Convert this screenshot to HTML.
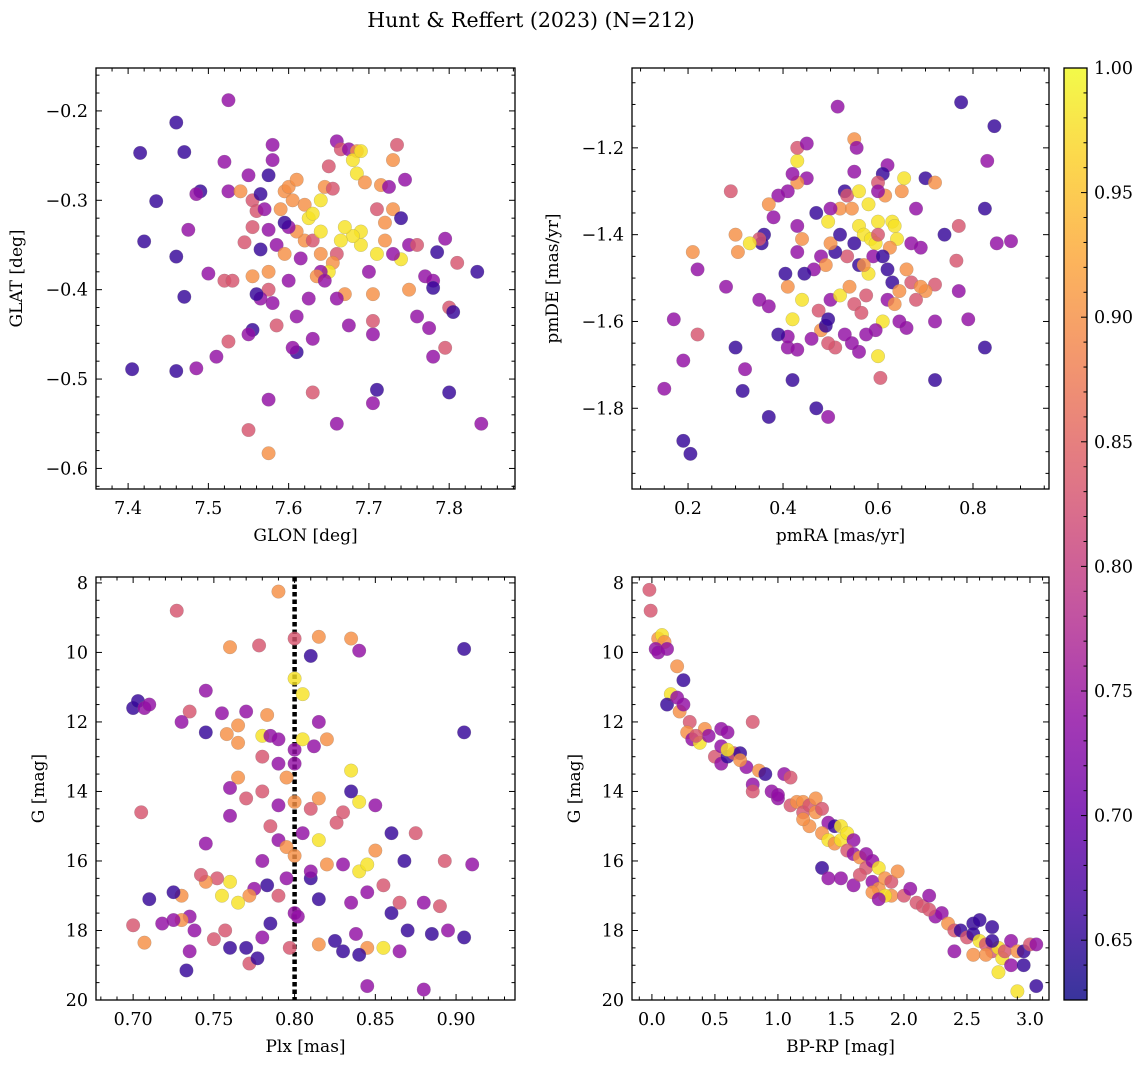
<!DOCTYPE html>
<html><head><meta charset="utf-8"><style>
body{margin:0;background:#fff}
svg{display:block;font-family:"DejaVu Serif","Liberation Serif",serif}
</style></head><body>
<svg id="fig" width="1148" height="1067" viewBox="0 0 1148 1067" xmlns="http://www.w3.org/2000/svg">
<text x="531" y="27" text-anchor="middle" font-size="20.5">Hunt &amp; Reffert (2023) (N=212)</text>
</svg>
<script>
// Color codes: d=0.65 m=0.74 p=0.83 o=0.90 y=0.98
const codeVal={d:0.655,m:0.74,p:0.83,o:0.9,y:0.98};
// Panel 1: GLON / GLAT
const glon=[7.525,7.46,7.415,7.47,7.435,7.42,7.46,7.47,7.475,7.49,7.485,7.50,7.51,7.485,7.46,7.405,7.525,7.52,7.53,7.52,7.525,7.54,7.55,7.545,7.555,7.555,7.56,7.57,7.565,7.58,7.58,7.575,7.59,7.595,7.6,7.61,7.605,7.62,7.625,7.63,7.64,7.645,7.65,7.655,7.66,7.665,7.675,7.685,7.68,7.685,7.69,7.695,7.71,7.72,7.73,7.735,7.745,7.715,7.725,7.73,7.74,7.75,7.76,7.74,7.75,7.77,7.78,7.78,7.785,7.795,7.81,7.835,7.8,7.805,7.795,7.775,7.78,7.80,7.84,7.71,7.705,7.705,7.705,7.705,7.71,7.72,7.69,7.69,7.68,7.67,7.665,7.66,7.655,7.65,7.67,7.66,7.675,7.66,7.63,7.63,7.625,7.61,7.605,7.61,7.585,7.58,7.575,7.565,7.56,7.555,7.55,7.555,7.575,7.585,7.595,7.6,7.615,7.62,7.63,7.64,7.64,7.61,7.6,7.595,7.575,7.565,7.575,7.575,7.55,7.64,7.635,7.645,7.7,7.73,7.76];
const glat=[-0.188,-0.213,-0.247,-0.246,-0.301,-0.346,-0.363,-0.408,-0.333,-0.29,-0.293,-0.382,-0.475,-0.488,-0.491,-0.489,-0.458,-0.39,-0.39,-0.257,-0.29,-0.29,-0.272,-0.347,-0.33,-0.30,-0.312,-0.31,-0.293,-0.238,-0.255,-0.272,-0.31,-0.29,-0.285,-0.277,-0.3,-0.305,-0.32,-0.315,-0.3,-0.285,-0.262,-0.287,-0.234,-0.243,-0.243,-0.245,-0.255,-0.27,-0.245,-0.28,-0.31,-0.325,-0.255,-0.238,-0.277,-0.283,-0.285,-0.31,-0.32,-0.35,-0.35,-0.366,-0.40,-0.385,-0.39,-0.398,-0.358,-0.343,-0.37,-0.38,-0.42,-0.425,-0.465,-0.443,-0.475,-0.515,-0.55,-0.512,-0.527,-0.45,-0.435,-0.405,-0.36,-0.345,-0.35,-0.335,-0.34,-0.33,-0.345,-0.36,-0.37,-0.38,-0.405,-0.41,-0.44,-0.55,-0.515,-0.455,-0.41,-0.47,-0.465,-0.43,-0.44,-0.415,-0.40,-0.41,-0.405,-0.445,-0.45,-0.385,-0.38,-0.35,-0.36,-0.39,-0.365,-0.345,-0.345,-0.36,-0.335,-0.335,-0.33,-0.325,-0.333,-0.355,-0.523,-0.583,-0.557,-0.38,-0.385,-0.39,-0.38,-0.36,-0.43];
const prob1="mdddddddmdmmmmddpppmmomppppmdmmdooooooyyyoppmpmoyyyopoopmomodmpyommddmpdpdpmmdmdmmpoyoyyyyypoyomnmpmmdmmpmpmddmoomommopoyomdmdmopmomm";
// Panel 2: pmRA / pmDE
const pmra=[0.515,0.775,0.845,0.83,0.825,0.88,0.85,0.825,0.79,0.765,0.77,0.77,0.72,0.72,0.72,0.70,0.72,0.74,0.70,0.66,0.65,0.655,0.63,0.62,0.61,0.6,0.615,0.6,0.55,0.555,0.55,0.53,0.535,0.52,0.56,0.545,0.58,0.56,0.57,0.585,0.595,0.6,0.635,0.64,0.625,0.62,0.63,0.645,0.66,0.67,0.68,0.69,0.62,0.635,0.645,0.61,0.595,0.6,0.605,0.575,0.56,0.545,0.53,0.51,0.495,0.48,0.475,0.46,0.47,0.495,0.49,0.495,0.5,0.52,0.54,0.55,0.565,0.575,0.58,0.56,0.535,0.51,0.5,0.48,0.49,0.465,0.445,0.44,0.42,0.41,0.405,0.43,0.44,0.43,0.47,0.5,0.495,0.52,0.55,0.45,0.43,0.43,0.43,0.45,0.42,0.41,0.39,0.37,0.38,0.36,0.355,0.35,0.33,0.3,0.305,0.29,0.28,0.21,0.22,0.22,0.17,0.19,0.15,0.19,0.205,0.3,0.315,0.32,0.35,0.37,0.37,0.42,0.41,0.41,0.39,0.43,0.60,0.59,0.57,0.67,0.69,0.61,0.68];
const pmde=[-1.105,-1.095,-1.15,-1.23,-1.34,-1.415,-1.42,-1.66,-1.595,-1.46,-1.38,-1.53,-1.735,-1.6,-1.515,-1.27,-1.28,-1.40,-1.53,-1.615,-1.30,-1.27,-1.37,-1.24,-1.26,-1.28,-1.31,-1.30,-1.18,-1.20,-1.255,-1.3,-1.31,-1.34,-1.30,-1.34,-1.33,-1.38,-1.40,-1.41,-1.42,-1.37,-1.38,-1.41,-1.43,-1.48,-1.51,-1.53,-1.48,-1.51,-1.55,-1.52,-1.55,-1.56,-1.60,-1.60,-1.62,-1.68,-1.73,-1.63,-1.67,-1.65,-1.63,-1.66,-1.65,-1.62,-1.575,-1.64,-1.80,-1.82,-1.61,-1.595,-1.55,-1.54,-1.52,-1.56,-1.58,-1.54,-1.49,-1.47,-1.45,-1.44,-1.42,-1.45,-1.47,-1.48,-1.49,-1.55,-1.595,-1.52,-1.49,-1.44,-1.41,-1.38,-1.35,-1.34,-1.37,-1.40,-1.42,-1.27,-1.28,-1.23,-1.2,-1.19,-1.26,-1.30,-1.31,-1.33,-1.36,-1.40,-1.42,-1.41,-1.42,-1.40,-1.44,-1.30,-1.52,-1.44,-1.48,-1.63,-1.595,-1.69,-1.755,-1.875,-1.905,-1.66,-1.76,-1.71,-1.55,-1.565,-1.82,-1.735,-1.66,-1.635,-1.63,-1.665,-1.40,-1.45,-1.47,-1.42,-1.43,-1.45,-1.34];
const prob2="mddmdmmdmppmdmpdodomoyymdpomommdpoyoyyyyyyyyoddooppomomymypmmmmppopmdmddmyopppydpdomomdyyodmomdmyddmoypmmmmomddpyoopmompmmmddddmmmddmmdmpmommdmpm";
// Panel 3: Plx / G
const plx=[0.727,0.79,0.80,0.815,0.835,0.84,0.81,0.80,0.805,0.778,0.76,0.905,0.70,0.703,0.707,0.71,0.735,0.73,0.745,0.745,0.755,0.758,0.765,0.77,0.765,0.78,0.783,0.785,0.79,0.80,0.805,0.815,0.812,0.82,0.80,0.795,0.79,0.78,0.765,0.76,0.77,0.78,0.79,0.8,0.81,0.815,0.83,0.835,0.84,0.85,0.835,0.826,0.76,0.745,0.705,0.785,0.79,0.795,0.805,0.8,0.815,0.82,0.83,0.84,0.845,0.85,0.86,0.855,0.845,0.835,0.838,0.845,0.84,0.845,0.855,0.86,0.865,0.868,0.875,0.88,0.88,0.885,0.89,0.893,0.895,0.905,0.91,0.905,0.87,0.865,0.825,0.815,0.81,0.81,0.8,0.802,0.79,0.795,0.783,0.78,0.775,0.772,0.765,0.76,0.755,0.752,0.745,0.742,0.735,0.73,0.725,0.73,0.725,0.71,0.718,0.70,0.707,0.738,0.735,0.733,0.75,0.757,0.76,0.77,0.772,0.777,0.78,0.785,0.797,0.83,0.815];
const gmag3=[8.8,8.25,9.6,9.55,9.6,9.95,10.1,10.75,11.2,9.8,9.85,9.9,11.6,11.4,11.6,11.5,11.7,12.0,11.1,12.3,11.75,12.35,12.1,11.7,12.6,12.4,11.8,12.4,12.5,12.8,12.5,12.0,12.7,12.5,13.2,13.6,13.2,13.0,13.6,13.9,14.2,14.0,14.4,14.3,14.5,14.2,14.6,13.4,14.3,14.4,14.0,14.9,14.7,15.5,14.6,15.0,15.4,15.6,15.2,15.85,15.4,16.1,16.1,16.3,16.1,15.7,15.2,16.7,16.9,17.2,18.1,18.5,18.7,19.6,18.5,17.5,17.2,16.0,15.2,17.2,19.7,18.1,17.3,16.0,18.0,18.2,16.1,12.3,18.0,18.6,18.3,17.1,16.5,16.3,17.5,17.6,17.0,16.5,16.7,16.0,16.8,17.0,17.2,16.6,17.0,16.5,16.6,16.4,17.6,17.0,16.9,17.7,17.7,17.1,17.8,17.85,18.35,18.0,18.6,19.15,18.25,18.0,18.5,18.5,18.95,18.8,18.2,17.8,18.5,18.6,18.4];
const prob3="popoomdyypodddmmpmmdmoomoyommmymmomompomppmopopyymdpmmppmomoyomyyodpmmmodmydpdpmmdppmdmddmdddmmmpmdmmoyyypopmodomdmpommdppddpdmdpdomommdymmppmd";
// Panel 4: BP-RP / G
const bprp=[-0.02,-0.01,0.05,0.08,0.1,0.03,0.05,0.12,0.2,0.25,0.15,0.12,0.2,0.22,0.25,0.3,0.28,0.32,0.38,0.42,0.45,0.55,0.6,0.5,0.55,0.6,0.65,0.7,0.55,0.6,0.8,0.75,0.8,0.8,0.85,0.9,0.95,1.0,1.05,1.1,1.1,1.15,1.2,1.2,1.25,1.3,1.3,1.35,1.4,1.45,1.35,1.4,1.45,1.5,1.5,1.55,1.6,1.55,1.6,1.65,1.7,1.7,1.75,1.8,1.35,1.4,1.5,1.6,1.75,1.8,1.85,1.9,1.95,1.9,2.0,2.05,1.85,1.75,2.1,2.15,2.2,2.25,2.3,2.35,2.4,2.45,2.4,2.5,2.55,2.6,2.55,2.6,2.65,2.7,2.65,2.55,2.7,2.75,2.78,2.8,2.75,2.85,2.9,2.95,2.85,2.95,3.0,3.05,3.05,2.7,2.2,1.8,1.65,1.25,1.2,1.0,0.7,0.35,2.9];
const gmag4=[8.2,8.8,9.6,9.5,9.7,9.9,10.0,9.9,10.4,10.8,11.2,11.5,11.3,11.7,11.5,12.0,12.3,12.5,12.6,12.2,12.4,12.2,12.3,13.0,13.2,13.0,12.9,12.9,12.7,12.8,12.0,13.3,13.8,14.0,13.4,13.5,14.0,14.2,13.5,13.6,14.4,14.3,14.3,14.6,14.4,14.2,14.6,14.5,14.9,15.0,15.2,15.4,15.5,15.4,15.0,15.2,15.4,15.7,15.8,15.9,15.8,16.2,16.0,16.2,16.2,16.5,16.5,16.7,16.6,16.8,16.5,16.6,16.3,17.0,17.0,16.8,17.0,16.9,17.2,17.3,17.0,17.6,17.5,17.8,18.0,18.0,18.6,18.2,17.8,17.7,18.1,18.3,18.4,18.6,18.7,18.7,17.9,18.5,18.8,18.6,19.2,18.3,18.6,18.6,19.0,19.0,18.4,18.4,19.6,18.3,17.4,17.1,16.4,15.0,14.8,14.1,13.1,12.4,19.75];
const prob4="ppoyommmodydmomporyommmpmdpdmypmmpodmmmppooppoopmdoyoyyympmompmydmmmmoopoopmyoppmmmopdmpdddyppoodyypymodmdpmddpmpoomopyom";
// Colorbar ticks
const cbTicks=[0.65,0.70,0.75,0.80,0.85,0.90,0.95,1.00];

const NS="http://www.w3.org/2000/svg";
const svg=document.getElementById('fig');
function mk(tag,attrs,parent){const e=document.createElementNS(NS,tag);for(const k in attrs)e.setAttribute(k,attrs[k]);(parent||svg).appendChild(e);return e;}
const stops=[[0,13,8,135],[0.1,65,4,157],[0.2,106,0,168],[0.3,143,13,164],[0.4,177,42,144],[0.5,204,71,120],[0.6,225,100,98],[0.7,242,132,75],[0.8,252,166,54],[0.9,252,206,37],[1,240,249,33]];
function plasma(t){t=Math.max(0,Math.min(1,t));for(let i=1;i<stops.length;i++){if(t<=stops[i][0]){const a=stops[i-1],b=stops[i],f=(t-a[0])/(b[0]-a[0]);return `rgb(${Math.round(a[1]+f*(b[1]-a[1]))},${Math.round(a[2]+f*(b[2]-a[2]))},${Math.round(a[3]+f*(b[3]-a[3]))})`;}}return 'rgb(240,249,33)';}
const vmin=0.626,vmax=1.0;
const cnorm=v=>(v-vmin)/(vmax-vmin);

function panel(o){
  const {x0,x1,y0,y1,xmin,xmax,ymin,ymax,name}=o;
  const sx=v=>x0+(v-xmin)/(xmax-xmin)*(x1-x0);
  const sy=o.invert?(v=>y0+(v-ymin)/(ymax-ymin)*(y1-y0)):(v=>y0+(ymax-v)/(ymax-ymin)*(y1-y0));
  const g=mk('g',{});
  
  
  if(o.vline!==undefined){
    const l=mk('line',{x1:sx(o.vline),x2:sx(o.vline),y1:y0,y2:y1,stroke:'#000','stroke-width':4.5,'stroke-dasharray':'4.5,3'},g);
    
    
  }
  const pg=mk('g',{},g);
  
  
  for(let i=0;i<o.xs.length;i++){
    const pv=codeVal[o.ps[i]]||0.74;
    const c=mk('circle',{cx:sx(o.xs[i]),cy:sy(o.ys[i]),r:6.8,fill:plasma(cnorm(pv)),'fill-opacity':0.82,stroke:'#777','stroke-opacity':0.4,'stroke-width':0.5},pg);
    
    
  }
  const f=mk('rect',{x:x0,y:y0,width:x1-x0,height:y1-y0,fill:'none',stroke:'#000','stroke-width':1.3},g);
  
  
  const eps=1e-9;
  for(let k=Math.ceil(xmin/o.xminor-eps);k*o.xminor<=xmax+eps;k++){
    const v=k*o.xminor;
    const X=sx(v);const maj=Math.abs(v/o.xmajor-Math.round(v/o.xmajor))<1e-6;const L=maj?6:3.5;
    mk('line',{x1:X,x2:X,y1:y1,y2:y1-L,stroke:'#000','stroke-width':1},g);
    mk('line',{x1:X,x2:X,y1:y0,y2:y0+L,stroke:'#000','stroke-width':1},g);
    if(maj){const t=mk('text',{x:X,y:y1+25,'text-anchor':'middle','font-size':17.5},g);t.textContent=(Math.round(v/o.xmajor)*o.xmajor).toFixed(o.xdec);
      
      }
  }
  for(let k=Math.ceil(ymin/o.yminor-eps);k*o.yminor<=ymax+eps;k++){
    const v=k*o.yminor;
    const Y=sy(v);const maj=Math.abs(v/o.ymajor-Math.round(v/o.ymajor))<1e-6;const L=maj?6:3.5;
    mk('line',{x1:x0,x2:x0+L,y1:Y,y2:Y,stroke:'#000','stroke-width':1},g);
    mk('line',{x1:x1,x2:x1-L,y1:Y,y2:Y,stroke:'#000','stroke-width':1},g);
    if(maj){const t=mk('text',{x:x0-8,y:Y+6,'text-anchor':'end','font-size':17.5},g);t.textContent=(Math.round(v/o.ymajor)*o.ymajor).toFixed(o.ydec).replace('-','\u2212');
      
      }
  }
  const xl=mk('text',{x:(x0+x1)/2,y:y1+52,'text-anchor':'middle','font-size':17},g);xl.textContent=o.xlabel;
  
  
  const yx=o.ylx, yy=(y0+y1)/2;
  const yl=mk('text',{x:yx,y:yy,'text-anchor':'middle','font-size':17,transform:`rotate(-90 ${yx} ${yy})`},g);yl.textContent=o.ylabel;
  
  
}
panel({name:'glon-glat',x0:96,x1:515,y0:68,y1:489,xmin:7.36,xmax:7.882,ymin:-0.623,ymax:-0.152,xmajor:0.1,xminor:0.02,ymajor:0.1,yminor:0.02,xdec:1,ydec:1,xs:glon,ys:glat,ps:prob1,xlabel:'GLON [deg]',ylabel:'GLAT [deg]',ylx:22});
panel({name:'proper-motion',x0:632,x1:1049,y0:68,y1:489,xmin:0.082,xmax:0.96,ymin:-1.986,ymax:-1.016,xmajor:0.2,xminor:0.05,ymajor:0.2,yminor:0.05,xdec:1,ydec:1,xs:pmra,ys:pmde,ps:prob2,xlabel:'pmRA [mas/yr]',ylabel:'pmDE [mas/yr]',ylx:558});
panel({name:'parallax-mag',x0:96,x1:515,y0:577,y1:1000,xmin:0.677,xmax:0.9365,ymin:7.83,ymax:20,xmajor:0.05,xminor:0.01,ymajor:2,yminor:0.5,xdec:2,ydec:0,xs:plx,ys:gmag3,ps:prob3,xlabel:'Plx [mas]',ylabel:'G [mag]',ylx:44,vline:0.80,invert:true});
panel({name:'cmd',x0:632,x1:1049,y0:577,y1:1000,xmin:-0.158,xmax:3.151,ymin:7.83,ymax:20,xmajor:0.5,xminor:0.1,ymajor:2,yminor:0.5,xdec:1,ydec:0,xs:bprp,ys:gmag4,ps:prob4,xlabel:'BP-RP [mag]',ylabel:'G [mag]',ylx:580,invert:true});

(function(){
  const x0=1064,x1=1087,y0=68,y1=1000;
  const g=mk('g',{});
  
  
  const defs=mk('defs',{});
  const lg=mk('linearGradient',{id:'cbg',x1:0,y1:1,x2:0,y2:0},defs);
  for(let i=0;i<=20;i++){const t=i/20;mk('stop',{offset:t,'stop-color':plasma(t)},lg);}
  mk('rect',{x:x0,y:y0,width:x1-x0,height:y1-y0,fill:'url(#cbg)','fill-opacity':0.82,stroke:'#000','stroke-width':1.3},g);
  const sy=v=>y1-(v-vmin)/(vmax-vmin)*(y1-y0);
  for(let k=63;k<=100;k++){
    const v=k/100;const Y=sy(v);const maj=k%5===0;
    mk('line',{x1:x1,x2:x1-(maj?6:3.5),y1:Y,y2:Y,stroke:'#000'},g);
  }
  cbTicks.forEach(v=>{
    const t=mk('text',{x:x1+7,y:sy(v)+6,'font-size':17.5},g);t.textContent=v.toFixed(2);
    
    
  });
})();
</script>
</body></html>
